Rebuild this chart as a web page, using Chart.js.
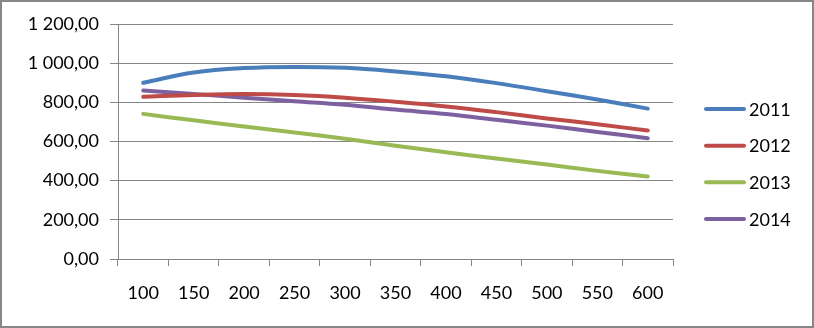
<!DOCTYPE html>
<html lang="en">
<head>
  <meta charset="UTF-8" />
  <title>Chart</title>
  <script src="https://cdn.jsdelivr.net/npm/chart.js"></script>
  <style>
    body {
      margin: 0;
      background: #ffffff;
    }
    .frame {
      width: 814px;
      height: 328px;
      box-sizing: border-box;
      border: 2px solid #868686;
      background: #ffffff;
    }
    canvas {
      display: block;
    }
  </style>
</head>
<body>
  <div class="frame">
    <canvas id="lineChart" width="810" height="324"></canvas>
  </div>

  <script>
    // data
    const categories = ['100', '150', '200', '250', '300', '350', '400', '450', '500', '550', '600'];
    const seriesNames = ['2011', '2012', '2013', '2014'];
    const values2011 = [900, 952, 975, 981, 976, 958, 933, 898, 857, 814, 768];
    const values2012 = [828, 838, 843, 838, 824, 803, 779, 750, 718, 688, 656];
    const values2013 = [741, 708, 677, 646, 614, 578, 545, 513, 482, 450, 421];
    const values2014 = [860, 842, 824, 806, 788, 763, 740, 711, 681, 649, 617];
    const yTicks = [0, 200, 400, 600, 800, 1000, 1200];

    const colors = ['#4A7EBB', '#BE4B48', '#98B954', '#7D60A0'];
    const allValues = [values2011, values2012, values2013, values2014];
    const FONT = 'Lato, "Open Sans", sans-serif';

    // 1 200,00 style labels
    function formatNumber(v) {
      const parts = v.toFixed(2).split('.');
      const intPart = parts[0].replace(/\B(?=(\d{3})+(?!\d))/g, ' ');
      return intPart + ',' + parts[1];
    }

    // legend drawn at the right, like the original
    const sideLegend = {
      id: 'sideLegend',
      afterDraw(chart) {
        const ctx = chart.ctx;
        const x = chart.chartArea.right + 31;
        const gap = 36.7;
        const n = chart.data.datasets.length;
        const startY = chart.height / 2 - gap * (n - 1) / 2;
        ctx.save();
        ctx.font = '18px ' + FONT;
        ctx.textBaseline = 'middle';
        ctx.lineCap = 'round';
        chart.data.datasets.forEach((ds, i) => {
          const y = startY + i * gap;
          ctx.strokeStyle = ds.borderColor;
          ctx.lineWidth = 4;
          ctx.beginPath();
          ctx.moveTo(x + 2, y);
          ctx.lineTo(x + 40, y);
          ctx.stroke();
          ctx.fillStyle = '#000000';
          ctx.fillText(ds.label, x + 45, y + 1);
        });
        ctx.restore();
      }
    };

    const ctx = document.getElementById('lineChart').getContext('2d');
    new Chart(ctx, {
      type: 'line',
      data: {
        labels: categories,
        datasets: seriesNames.map((name, i) => ({
          label: name,
          data: allValues[i],
          borderColor: colors[i],
          backgroundColor: colors[i],
          borderWidth: 4,
          borderCapStyle: 'round',
          borderJoinStyle: 'round',
          pointRadius: 0,
          tension: 0.4,
          fill: false
        }))
      },
      options: {
        responsive: false,
        animation: false,
        layout: {
          padding: { top: 22, right: 139, bottom: 0, left: 0 }
        },
        plugins: {
          legend: { display: false },
          tooltip: { enabled: false }
        },
        scales: {
          x: {
            offset: true,
            grid: {
              offset: true,
              drawOnChartArea: false,
              color: '#868686',
              tickLength: 7
            },
            border: { color: '#868686' },
            ticks: {
              color: '#000000',
              font: { family: FONT, size: 18 },
              padding: 16,
              maxRotation: 0
            },
            afterFit(scale) { scale.height = 67; }
          },
          y: {
            min: 0,
            max: 1200,
            afterBuildTicks(scale) {
              scale.ticks = yTicks.map(v => ({ value: v }));
            },
            grid: {
              color: '#868686',
              tickLength: 8
            },
            border: { color: '#868686' },
            ticks: {
              color: '#000000',
              font: { family: FONT, size: 18 },
              padding: 11,
              callback: (v) => formatNumber(v)
            },
            afterFit(scale) { scale.width = 116; }
          }
        }
      },
      plugins: [sideLegend]
    });
  </script>
</body>
</html>
